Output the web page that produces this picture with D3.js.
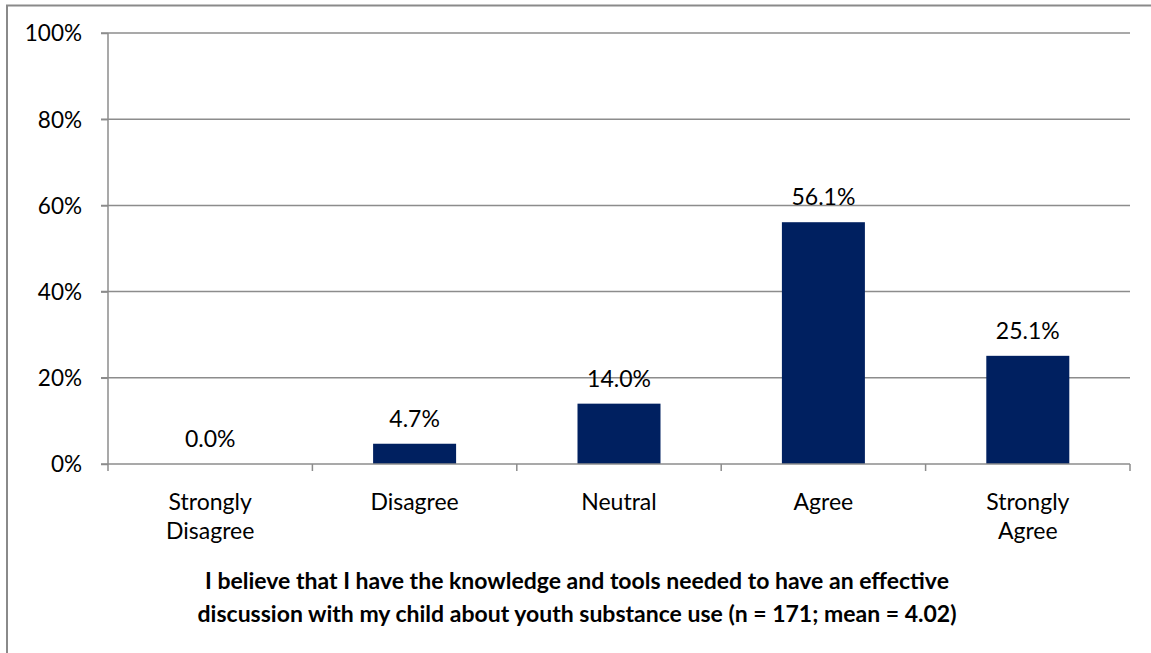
<!DOCTYPE html>
<html><head><meta charset="utf-8">
<script src="https://cdn.jsdelivr.net/npm/d3@7"></script>
<style>
html,body{margin:0;padding:0;background:#fff;overflow:hidden;}
text{font-family:Lato,"Open Sans",sans-serif;}
</style></head>
<body>
<svg id="c" width="1151" height="653"></svg>
<script>
const categories = [["Strongly","Disagree"],["Disagree"],["Neutral"],["Agree"],["Strongly","Agree"]];
const values = [0.0, 4.7, 14.0, 56.1, 25.1];
const yTicks = [0, 20, 40, 60, 80, 100];
const axisTitle = ["I believe that I have the knowledge and tools needed to have an effective",
                   "discussion with my child about youth substance use (n = 171; mean = 4.02)"];

const svg = d3.select("#c");
const m = {left:108, right:1130, top:33, bottom:464};

// outer frame
svg.append("rect").attr("x",7).attr("y",5.5).attr("width",1200).attr("height",700)
  .attr("fill","none").attr("stroke","#8a8a8a").attr("stroke-width",2);

const x = d3.scaleBand().domain(d3.range(categories.length)).range([m.left,m.right]).paddingInner(0).paddingOuter(0);
const y = d3.scaleLinear().domain([0,100]).range([m.bottom,m.top]);

// gridlines
svg.append("g").selectAll("line").data(yTicks.filter(d=>d>0)).join("line")
  .attr("x1",m.left-7).attr("x2",m.right).attr("y1",d=>y(d)).attr("y2",d=>y(d))
  .attr("stroke","#8c8c8c").attr("stroke-width",1.5);

// y axis
const ya = svg.append("g").attr("transform",`translate(${m.left},0)`)
  .call(d3.axisLeft(y).tickValues(yTicks).tickFormat(d=>d+"%").tickSize(7).tickPadding(19));
ya.select(".domain").attr("stroke","#8c8c8c").attr("stroke-width",1.5).attr("d",`M0,${m.top}V${m.bottom}`);
ya.selectAll(".tick line").attr("stroke","#8c8c8c").attr("stroke-width",1.5);
ya.selectAll(".tick text").attr("font-size",22.5).attr("fill","#000").attr("font-family","Lato").attr("dy","0.35em");

// bars
const bw = 83;
svg.append("g").selectAll("rect").data(values).join("rect")
  .attr("x",(d,i)=>x(i)+x.bandwidth()/2-bw/2).attr("width",bw)
  .attr("y",d=>y(d)).attr("height",d=>y(0)-y(d)).attr("fill","#002060");

// value labels
svg.append("g").selectAll("text").data(values).join("text")
  .attr("x",(d,i)=>x(i)+x.bandwidth()/2).attr("y",d=>y(d)-17)
  .attr("text-anchor","middle").attr("font-size",23).attr("fill","#000")
  .text(d=>d.toFixed(1)+"%");

// x axis
const xa = svg.append("g");
xa.append("line").attr("x1",m.left-7).attr("x2",m.right).attr("y1",y(0)).attr("y2",y(0))
  .attr("stroke","#8c8c8c").attr("stroke-width",1.5);
const bounds = d3.range(categories.length+1).map(i=> i<categories.length ? x(i) : m.right);
xa.selectAll("line.t").data(bounds).join("line").attr("class","t")
  .attr("x1",d=>d).attr("x2",d=>d).attr("y1",y(0)).attr("y2",y(0)+7)
  .attr("stroke","#8c8c8c").attr("stroke-width",1.5);
const cl = xa.selectAll("text.c").data(categories).join("text").attr("class","c")
  .attr("text-anchor","middle").attr("font-size",23).attr("fill","#000")
  .attr("transform",(d,i)=>`translate(${x(i)+x.bandwidth()/2},510)`);
cl.selectAll("tspan").data(d=>d).join("tspan").attr("x",0).attr("y",(d,j)=>j*29).text(d=>d);

// axis title
const at = svg.append("text").attr("text-anchor","middle").attr("font-size",23)
  .attr("font-weight","bold").attr("fill","#000").attr("transform","translate(577,589)");
at.selectAll("tspan").data(axisTitle).join("tspan").attr("x",0).attr("y",(d,j)=>j*33).text(d=>d);
</script>
</body></html>
